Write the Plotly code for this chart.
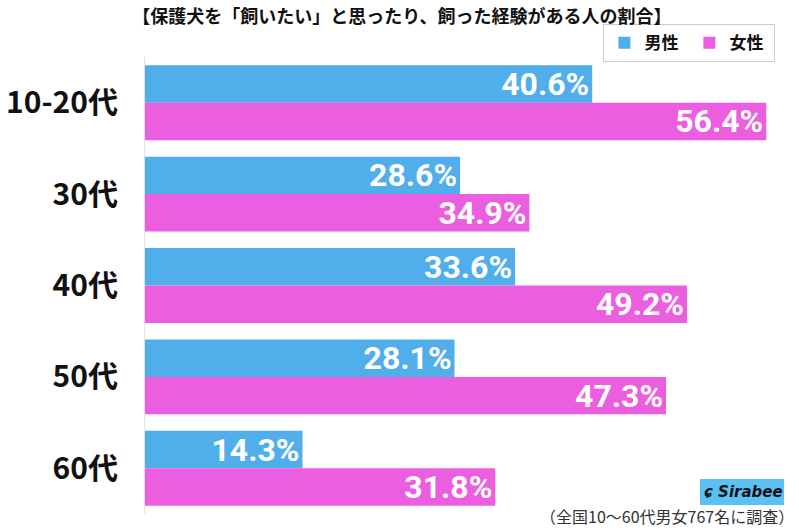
import plotly.graph_objects as go

categories = ["10-20代", "30代", "40代", "50代", "60代"]
male = [40.6, 28.6, 33.6, 28.1, 14.3]
female = [56.4, 34.9, 49.2, 47.3, 31.8]
series_names = ["男性", "女性"]
title_text = "【保護犬を「飼いたい」と思ったり、飼った経験がある人の割合】"
note_text = "（全国10〜60代男女767名に調査）"

FONT = "Noto Sans CJK JP"
NUMFONT = "Liberation Sans Narrow, Roboto, Arial"
BLUE = "#50AEEA"
PINK = "#EB5EE0"

fig = go.Figure()
for name, vals, col in [(series_names[0], male, BLUE), (series_names[1], female, PINK)]:
    fig.add_trace(go.Bar(
        y=categories, x=vals, name=name, orientation="h",
        marker=dict(color=col, line=dict(width=0)),
        text=[f"{v:.1f}%" for v in vals],
        textposition="inside", insidetextanchor="end", constraintext="none",
        textfont=dict(family=NUMFONT, size=32, color="white", weight="bold"),
        cliponaxis=False,
    ))

fig.update_layout(
    width=799, height=531,
    margin=dict(l=145, r=14, t=57, b=17, autoexpand=False),
    paper_bgcolor="white", plot_bgcolor="white",
    barmode="group", bargap=0.18, bargroupgap=0,
    font=dict(family=FONT),
    title=dict(text="<b>" + title_text + "</b>", x=0.503, xanchor="center", y=0.968, yanchor="middle",
               font=dict(family=FONT, size=18, color="#111111")),
    legend=dict(orientation="h", x=0.985, xanchor="right", y=1.03, yanchor="middle",
                bordercolor="#cccccc", borderwidth=1,
                font=dict(family=FONT, size=17, color="#111111", weight="bold"),
                itemwidth=30, entrywidth=40, traceorder="normal"),
    xaxis=dict(range=[0, 58.1], visible=False, showgrid=False, fixedrange=True),
    yaxis=dict(autorange="reversed", showline=True, linecolor="#e2e2e2", linewidth=1,
               ticks="", ticklabelstandoff=20, automargin=False, fixedrange=True,
               tickfont=dict(family=FONT, size=30, color="#111111", weight="bold")),
)

fig.add_shape(type="rect", xref="paper", yref="paper",
              x0=(700-145)/640, x1=(784-145)/640, y0=(531-17-505)/457, y1=(531-17-479)/457,
              fillcolor="#5BC0F2", line=dict(width=0), layer="above")
fig.add_annotation(xref="paper", yref="paper", x=(743-145)/640, y=(531-17-492)/457,
                   text="<b><i>ɕ Sirabee</i></b>", showarrow=False,
                   font=dict(family="DejaVu Sans", size=15, color="#111111"),
                   xanchor="center", yanchor="middle")
fig.add_annotation(xref="paper", yref="paper", x=(796-145)/640, y=(531-17-516)/457,
                   text=note_text, showarrow=False, xanchor="right", yanchor="middle",
                   font=dict(family=FONT, size=16, color="#333333"))

fig.write_html("out.html", config={"displayModeBar": False},
               post_script="document.body.style.margin='0';document.body.style.padding='0';")
